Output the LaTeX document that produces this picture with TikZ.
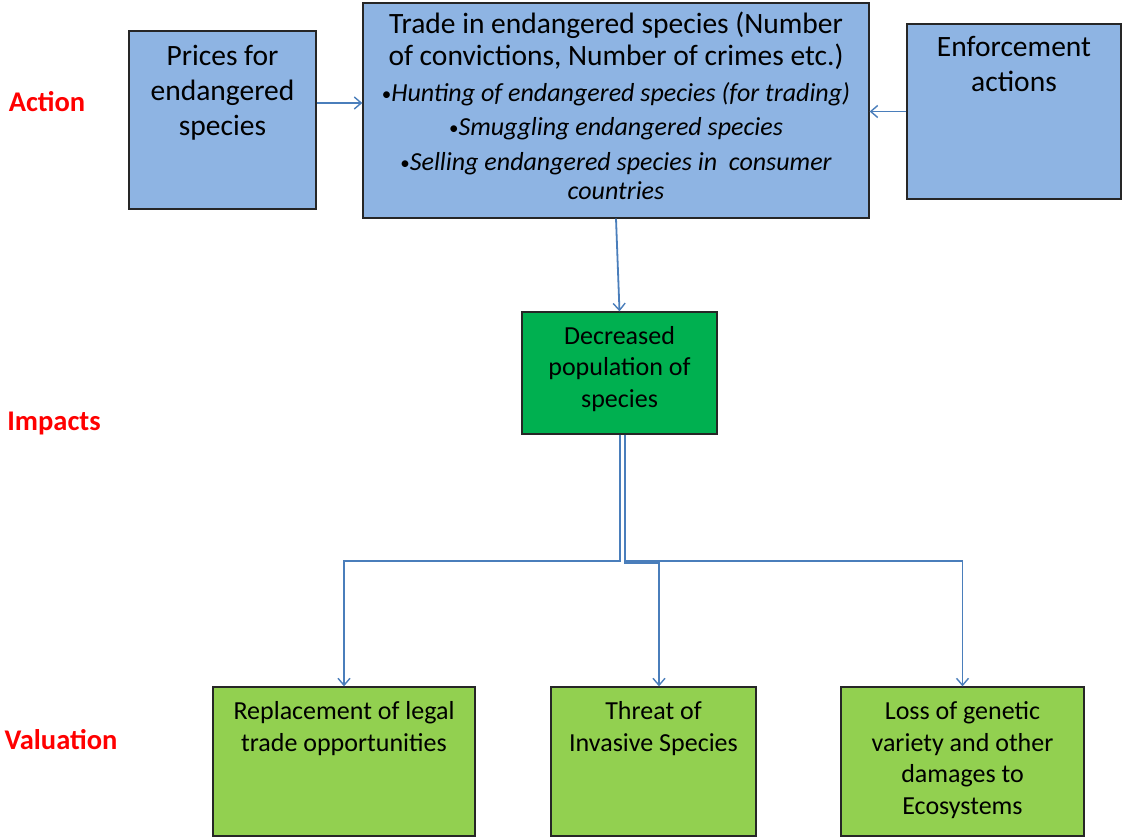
\documentclass[tikz,border=0pt]{standalone}
\usepackage{fontspec}
\setmainfont{Carlito}
\usetikzlibrary{arrows.meta,calc}
\definecolor{boxblue}{HTML}{8EB4E3}
\definecolor{darkgreen}{HTML}{00B050}
\definecolor{lightgreen}{HTML}{92D050}
\definecolor{linkblue}{HTML}{4A7EBB}
\definecolor{labred}{HTML}{FF0000}
\newcommand{\smallbullet}{{\upshape\fontsize{19}{19}\selectfont\raisebox{1.5pt}{•}}}
\tikzset{
  boxshape/.style={draw=black!85, line width=1.3pt, minimum width=#1, inner sep=0pt},
  boxtext/.style={anchor=base, align=center, inner sep=0pt},
  arr/.style={draw=linkblue, line width=1.8pt, -{Straight Barb[length=7pt,width=12pt,line width=1.4pt]}},
  rowlabel/.style={anchor=base, text=labred, font=\fontsize{28.5}{32}\selectfont\bfseries, inner sep=0pt},
}
\begin{document}
\begin{tikzpicture}[x=1pt,y=-1pt]
\useasboundingbox (0,0) rectangle (1122,837);
% row labels
\node[rowlabel] (lact) at (47,112) {Action};
\node[rowlabel] (limp) at (54,430) {Impacts};
\node[rowlabel] (lval) at (61,749) {Valuation};
% boxes
\node[boxshape=187pt, minimum height=178pt, fill=boxblue] (prices) at (222.5,120) {};
\node[boxshape=506pt, minimum height=215pt, fill=boxblue] (trade) at (616,110.5) {};
\node[boxshape=214pt, minimum height=175pt, fill=boxblue] (enf) at (1014,111.5) {};
\node[boxshape=195pt, minimum height=122pt, fill=darkgreen] (dec) at (619.5,373) {};
\node[boxshape=262pt, minimum height=149pt, fill=lightgreen] (repl) at (344,761.5) {};
\node[boxshape=205pt, minimum height=149pt, fill=lightgreen] (threat) at (653.5,761.5) {};
\node[boxshape=243pt, minimum height=149pt, fill=lightgreen] (loss) at (962.5,761.5) {};
% texts (anchored at the baseline of their last line)
\node[boxtext, font=\fontsize{29.5}{35}\selectfont] (pricest) at (222.5,136) {Prices for\\endangered\\species};
\node[boxtext, font=\fontsize{29.5}{35}\selectfont] (enft) at (1014,92) {Enforcement\\actions};
\node[boxtext, font=\fontsize{29.5}{32}\selectfont] (tradet) at (616,66) {Trade in endangered species (Number\\of convictions, Number of crimes etc.)};
\node[boxtext, font=\fontsize{26}{29}\selectfont\itshape] (b1) at (616,102) {\smallbullet Hunting of endangered species (for trading)};
\node[boxtext, font=\fontsize{26}{29}\selectfont\itshape] (b2) at (616,136) {\smallbullet Smuggling endangered species};
\node[boxtext, font=\fontsize{26}{29}\selectfont\itshape] (b3) at (616,200) {\smallbullet Selling endangered species in\ \ consumer\\countries};
\node[boxtext, font=\fontsize{26}{31.5}\selectfont] (dect) at (619.5,407) {Decreased\\population of\\species};
\node[boxtext, font=\fontsize{26}{31.5}\selectfont] (replt) at (344,751) {Replacement of legal\\trade opportunities};
\node[boxtext, font=\fontsize{26}{31.5}\selectfont] (threatt) at (653.5,751) {Threat of\\Invasive Species};
\node[boxtext, font=\fontsize{26}{31.5}\selectfont] (losst) at (962.5,814) {Loss of genetic\\variety and other\\damages to\\Ecosystems};
% connectors
\draw[arr] ([yshift=17pt]prices.east) coordinate (p1) -- (p1 -| trade.west);
\draw[arr] (enf.west) -- (enf.west -| trade.east);
\draw[arr] (trade.south) -- (dec.north);
\draw[arr] ([xshift=0.5pt]dec.south) -- ++(0,126) -| (repl.north);
\draw[arr] ([xshift=5pt]dec.south) -- ++(0,128) -| ([xshift=5.5pt]threat.north);
\draw[arr] ([xshift=5.5pt]dec.south) -- ++(0,126) -| (loss.north);
\end{tikzpicture}
\end{document}
